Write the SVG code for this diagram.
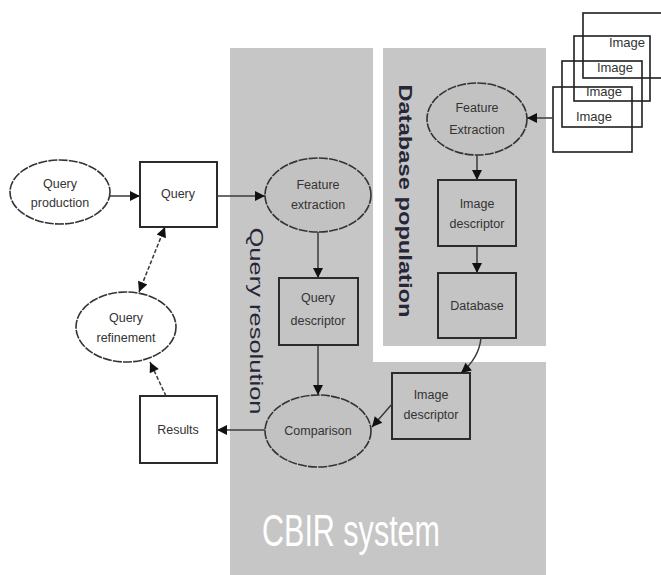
<svg xmlns="http://www.w3.org/2000/svg" width="661" height="575" viewBox="0 0 661 575">
<style>
.bg{fill:#c6c6c6}
.box{stroke:#2b2b2b;stroke-width:2}
.wbox{fill:#ffffff}
.gbox{fill:#c4c4c4}
.ell{stroke:#333;stroke-width:1.6;stroke-dasharray:9 1.2}
.wel{fill:#ffffff}
.gel{fill:#c2c2c2}
.img{fill:none;stroke:#1e1e1e;stroke-width:1.6}
.t{font-family:"Liberation Sans",Arial,sans-serif;font-size:12.5px;fill:#333;text-anchor:middle}
.it{font-family:"Liberation Sans",Arial,sans-serif;font-size:13px;fill:#333;text-anchor:middle}
.vl{font-family:"Liberation Sans",Arial,sans-serif;font-size:19px;fill:#262636;text-anchor:middle}
.big{font-family:"Liberation Sans",Arial,sans-serif;font-size:44px;fill:#ffffff;text-anchor:middle}
.c{fill:none;stroke:#3a3a3a;stroke-width:1.5}
.d{stroke-dasharray:4 2}
</style>
<defs>
<marker id="ah" viewBox="0 0 10 10" refX="10" refY="5" markerWidth="14" markerHeight="10" markerUnits="userSpaceOnUse" orient="auto-start-reverse">
<path d="M0,0 L10,5 L0,10 z" fill="#111"/>
</marker>
</defs>

<g id="regions">
<rect class="bg" x="230" y="48" width="143" height="527"/>
<rect class="bg" x="230" y="362" width="316" height="213"/>
<rect class="bg" x="383" y="48" width="163" height="298"/>
<text class="vl" transform="translate(250,321) rotate(90)" textLength="187" lengthAdjust="spacingAndGlyphs">Query resolution</text>
<text class="vl" font-weight="bold" transform="translate(399,201) rotate(90)" textLength="233" lengthAdjust="spacingAndGlyphs">Database population</text>
<text class="big" x="351" y="546" textLength="178" lengthAdjust="spacingAndGlyphs">CBIR system</text>
</g>

<g id="images">
<rect class="img" x="583" y="13" width="82" height="65"/>
<rect class="img" x="574" y="36" width="76" height="65"/>
<rect class="img" x="562" y="61" width="80" height="66"/>
<rect class="img" x="553" y="87" width="79" height="65"/>
<text class="it" x="627" y="47">Image</text>
<text class="it" x="615" y="72">Image</text>
<text class="it" x="604" y="96">Image</text>
<text class="it" x="594" y="121">Image</text>
</g>

<g id="query-production">
<ellipse class="ell wel" cx="60" cy="192" rx="50" ry="32"/>
<text class="t" x="60" y="188">Query</text>
<text class="t" x="60" y="207">production</text>
</g>

<g id="query">
<rect class="box wbox" x="140" y="162" width="77" height="65"/>
<text class="t" x="178" y="198">Query</text>
</g>

<g id="query-refinement">
<ellipse class="ell wel" cx="126" cy="327" rx="50" ry="35"/>
<text class="t" x="126" y="322">Query</text>
<text class="t" x="126" y="342">refinement</text>
</g>

<g id="results">
<rect class="box wbox" x="140" y="396" width="77" height="67"/>
<text class="t" x="178" y="434">Results</text>
</g>

<g id="feature-extraction-q">
<ellipse class="ell gel" cx="318" cy="195" rx="53" ry="37"/>
<text class="t" x="318" y="189">Feature</text>
<text class="t" x="318" y="209">extraction</text>
</g>

<g id="query-descriptor">
<rect class="box gbox" x="279" y="278" width="79" height="67"/>
<text class="t" x="318" y="302">Query</text>
<text class="t" x="318" y="325">descriptor</text>
</g>

<g id="comparison">
<ellipse class="ell gel" cx="318" cy="431" rx="53" ry="36"/>
<text class="t" x="318" y="435">Comparison</text>
</g>

<g id="image-descriptor-q">
<rect class="box gbox" x="392" y="373" width="78" height="66"/>
<text class="t" x="431" y="399">Image</text>
<text class="t" x="431" y="419">descriptor</text>
</g>

<g id="feature-extraction-db">
<ellipse class="ell gel" cx="477" cy="119" rx="50" ry="36"/>
<text class="t" x="477" y="112">Feature</text>
<text class="t" x="477" y="134">Extraction</text>
</g>

<g id="image-descriptor-db">
<rect class="box gbox" x="438" y="180" width="78" height="66"/>
<text class="t" x="477" y="208">Image</text>
<text class="t" x="477" y="228">descriptor</text>
</g>

<g id="database">
<rect class="box gbox" x="438" y="273" width="78" height="65"/>
<text class="t" x="477" y="310">Database</text>
</g>

<g id="connectors">
<path class="c" d="M110,196 L140,196" marker-end="url(#ah)"/>
<path class="c" d="M217,196 L265,196" marker-end="url(#ah)"/>
<path class="c" d="M318,232 L318,278" marker-end="url(#ah)"/>
<path class="c" d="M318,345 L318,395" marker-end="url(#ah)"/>
<path class="c" d="M265,430 L217,430" marker-end="url(#ah)"/>
<path class="c d" d="M166,396 L150,362" marker-end="url(#ah)"/>
<path class="c d" d="M165,227 L139,292" marker-start="url(#ah)" marker-end="url(#ah)"/>
<path class="c" d="M553,118 L527,118" marker-end="url(#ah)"/>
<path class="c" d="M477,155 L477,180" marker-end="url(#ah)"/>
<path class="c" d="M477,246 L477,273" marker-end="url(#ah)"/>
<path class="c" d="M481,338 Q479,358 461,373" marker-end="url(#ah)"/>
<path class="c" d="M392,404 L372,427" marker-end="url(#ah)"/>
</g>
</svg>
